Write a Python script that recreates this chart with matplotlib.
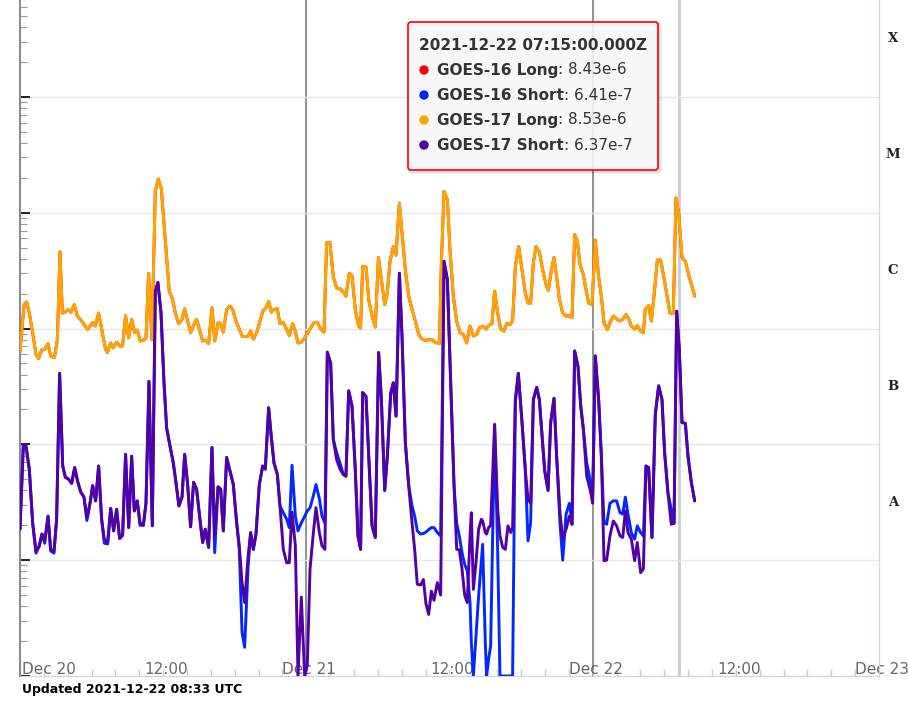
import matplotlib

matplotlib.use("Agg")

import matplotlib.dates as mdates
import matplotlib.pyplot as plt
import matplotlib.transforms as mtransforms
import numpy as np
import pandas as pd
from matplotlib.patches import Circle, FancyBboxPatch
from matplotlib.text import Annotation

START = pd.Timestamp("2021-12-20 00:00")

# hours after 2021-12-20 00:00 UTC, long channel (1-8 A), W/m^2
long_hours = [
    0.00, 0.34, 0.56, 0.78, 1.06, 1.34, 1.56, 1.84, 2.07, 2.35,
    2.57, 2.88, 3.13, 3.35, 3.55, 3.77, 4.05, 4.27, 4.55, 4.80,
    5.17, 5.45, 5.67, 6.09, 6.31, 6.59, 6.90, 7.18, 7.32, 7.60,
    7.82, 8.10, 8.38, 8.60, 8.85, 9.11, 9.36, 9.61, 9.83, 10.08,
    10.34, 10.56, 10.78, 11.06, 11.34, 11.59, 11.84, 12.09, 12.29, 12.51,
    12.79, 13.02, 13.30, 13.58, 13.80, 14.05, 14.30, 14.58, 14.80, 15.08,
    15.31, 15.59, 15.81, 16.09, 16.32, 16.60, 16.82, 17.04, 17.32, 17.60,
    17.83, 18.10, 18.38, 18.61, 18.89, 19.11, 19.33, 19.56, 19.84, 20.12,
    20.34, 20.62, 20.84, 21.07, 21.29, 21.57, 21.79, 22.07, 22.35, 22.57,
    22.85, 23.08, 23.30, 23.58, 23.86, 24.08, 24.36, 24.64, 24.92, 25.20,
    25.48, 25.70, 25.98, 26.26, 26.54, 26.82, 27.10, 27.32, 27.60, 27.83,
    28.10, 28.38, 28.55,
    28.72, 29.00, 29.23, 29.51, 29.78, 30.04, 30.29, 30.57, 30.79, 31.01,
    31.29, 31.52, 31.80, 32.02, 32.30, 32.58, 32.86, 33.14, 33.42, 33.70,
    33.97, 34.25, 34.53, 34.81, 35.15, 35.32, 35.54, 35.82, 36.04, 36.32,
    36.60, 36.88, 37.16, 37.44, 37.72, 38.00, 38.28, 38.50, 38.79, 39.06,
    39.28, 39.56, 39.78, 40.06, 40.29, 40.57, 40.79, 41.07, 41.29, 41.52,
    41.80, 42.08, 42.35, 42.58, 42.80,
    43.03, 43.25, 43.53, 43.81, 44.09, 44.29, 44.54, 44.76, 44.98, 45.21,
    45.49, 45.77, 45.99, 46.27, 46.49, 46.72, 46.94, 47.22, 47.44, 47.67,
    47.95, 48.22, 48.50, 48.73, 48.95, 49.23, 49.45, 49.73, 50.01, 50.24,
    50.52, 50.79, 51.02, 51.24, 51.52, 51.74, 52.02, 52.25, 52.41, 52.69,
    52.92, 53.14, 53.42, 53.70, 53.98, 54.26, 54.48, 54.76, 54.98, 55.21,
    55.49, 55.77, 56.05, 56.33, 56.55,
]
g17_long = [
    6.3e-7, 1.6e-6, 1.7e-6, 1.36e-6, 9.2e-7, 6.0e-7, 5.5e-7, 6.6e-7, 6.6e-7, 7.4e-7,
    5.8e-7, 5.6e-7, 8.0e-7, 4.6e-6, 1.36e-6, 1.38e-6, 1.46e-6, 1.38e-6, 1.61e-6, 1.28e-6,
    1.16e-6, 1.05e-6, 9.8e-7, 1.13e-6, 1.05e-6, 1.36e-6, 9.2e-7, 6.6e-7, 6.2e-7, 7.5e-7,
    6.8e-7, 7.6e-7, 7.0e-7, 7.1e-7, 1.29e-6, 8.3e-7, 1.2e-6, 9.2e-7, 9.7e-7, 7.8e-7,
    7.9e-7, 8.3e-7, 2.98e-6, 8.0e-7, 1.53e-5, 1.95e-5, 1.63e-5, 7.6e-6, 4.2e-6, 2.1e-6,
    1.78e-6, 1.36e-6, 1.1e-6, 1.2e-6, 1.48e-6, 1.16e-6, 9.2e-7, 1.08e-6, 1.2e-6, 9.5e-7,
    7.8e-7, 7.9e-7, 7.4e-7, 1.51e-6, 7.8e-7, 1.12e-6, 1.1e-6, 9.3e-7, 1.46e-6, 1.56e-6,
    1.46e-6, 1.16e-6, 9.9e-7, 8.6e-7, 8.5e-7, 8.6e-7, 9.5e-7, 8.1e-7, 9.2e-7, 1.16e-6,
    1.41e-6, 1.51e-6, 1.71e-6, 1.38e-6, 1.46e-6, 1.48e-6, 1.1e-6, 1.13e-6, 9.8e-7, 8.7e-7,
    1.1e-6, 9.5e-7, 7.5e-7, 7.6e-7, 8.3e-7, 9.0e-7, 1.01e-6, 1.12e-6, 1.13e-6, 9.9e-7,
    9.3e-7, 5.5e-6, 5.5e-6, 2.8e-6, 2.24e-6, 2.2e-6, 2.06e-6, 1.9e-6, 3.0e-6, 2.86e-6,
    1.46e-6, 1.05e-6, 1.01e-6,
    3.45e-6, 3.4e-6, 1.78e-6, 1.28e-6, 1.03e-6, 4.1e-6, 2.65e-6, 1.61e-6, 2.03e-6, 3.8e-6,
    5.1e-6, 4.3e-6, 1.21e-5, 6.7e-6, 3.2e-6, 1.9e-6, 1.46e-6, 1.16e-6, 8.9e-7, 8.1e-7,
    7.9e-7, 8.0e-7, 8.0e-7, 7.6e-7, 7.4e-7, 3.7e-6, 1.53e-5, 1.29e-5, 4.8e-6, 1.9e-6,
    1.16e-6, 9.2e-7, 8.9e-7, 7.5e-7, 1.05e-6, 8.6e-7, 8.9e-7, 1.01e-6, 1.05e-6, 9.9e-7,
    1.06e-6, 1.1e-6, 2.1e-6, 1.32e-6, 9.9e-7, 9.5e-7, 1.1e-6, 1.08e-6, 1.16e-6, 3.45e-6,
    5.1e-6, 3.2e-6, 2.03e-6, 1.66e-6, 1.66e-6,
    3.7e-6, 5.1e-6, 4.6e-6, 3.2e-6, 2.4e-6, 2.14e-6, 3.2e-6, 4.1e-6, 2.8e-6, 1.78e-6,
    1.36e-6, 1.28e-6, 1.29e-6, 1.24e-6, 6.5e-6, 5.65e-6, 3.56e-6, 2.9e-6, 2.17e-6, 1.66e-6,
    1.61e-6, 5.8e-6, 2.8e-6, 1.9e-6, 1.12e-6, 9.8e-7, 1.12e-6, 1.28e-6, 1.21e-6, 1.16e-6,
    1.2e-6, 1.32e-6, 1.21e-6, 1.05e-6, 9.9e-7, 1.06e-6, 9.5e-7, 9.2e-7, 1.46e-6, 1.58e-6,
    1.16e-6, 1.9e-6, 3.9e-6, 3.9e-6, 2.73e-6, 1.84e-6, 1.36e-6, 1.35e-6, 1.34e-5, 9.9e-6,
    4.1e-6, 3.8e-6, 2.9e-6, 2.3e-6, 1.9e-6,
]
# GOES-16 long reads the same as GOES-17 long at this scale (hidden underneath)
g16_long = list(g17_long)

# short channel (0.5-4 A)
short_hours = [
    0.00, 0.28, 0.50, 0.78, 1.06, 1.34, 1.62, 1.84, 2.07, 2.35,
    2.57, 2.85, 3.07, 3.32, 3.58, 3.80, 4.08, 4.33, 4.58, 4.83,
    5.08, 5.36, 5.61, 5.87, 6.09, 6.34, 6.59, 6.84, 7.07, 7.35,
    7.60, 7.85, 8.10, 8.35, 8.60, 8.85, 9.11, 9.36, 9.58, 9.83,
    10.06, 10.34, 10.56, 10.81, 11.09, 11.34, 11.56, 11.82, 12.07, 12.29,
    12.57, 12.85, 13.07, 13.32, 13.58, 13.80, 14.05, 14.30, 14.55, 14.80,
    15.08,
    15.31, 15.53, 15.81, 16.09, 16.32, 16.60, 16.82, 17.04, 17.32, 17.60,
    17.88, 18.16, 18.38, 18.61, 18.83, 19.11, 19.33, 19.56, 19.78, 20.06,
    20.34, 20.56, 20.84, 21.07, 21.29, 21.57, 21.79, 22.07, 22.35, 22.57,
    22.80, 23.08, 23.30, 23.58, 23.86, 24.08, 24.31, 24.59, 24.81, 25.09,
    25.31, 25.56, 25.76, 26.04, 26.26, 26.54, 26.82, 27.10, 27.32, 27.55,
    27.83, 28.10, 28.33, 28.55,
    28.72, 29.00, 29.28, 29.51, 29.78, 30.06, 30.29, 30.57, 30.79, 31.07,
    31.29, 31.52, 31.80, 32.02, 32.30, 32.58, 32.86, 33.08, 33.30, 33.58,
    33.81, 34.03, 34.25, 34.48, 34.70, 34.98, 35.26, 35.54, 35.82, 36.10,
    36.38, 36.60, 36.82, 37.05, 37.27, 37.49, 37.72, 37.83, 38.00, 38.22,
    38.44, 38.67, 38.78, 39.00, 39.11, 39.28, 39.45, 39.78, 40.04, 40.23,
    40.46, 40.68, 40.90, 41.13, 41.29, 41.52, 41.77, 42.08, 42.35, 42.58,
    42.80,
    43.03, 43.31, 43.53, 43.76, 43.98, 44.26, 44.48, 44.76, 44.98, 45.26,
    45.49, 45.77, 46.05, 46.27, 46.49, 46.77, 47.00, 47.22, 47.50, 47.78,
    48.00, 48.22, 48.50, 48.73, 48.95, 49.17, 49.45, 49.73, 50.01, 50.29,
    50.52, 50.74, 50.96, 51.24, 51.52, 51.74, 52.02, 52.25, 52.47, 52.69,
    52.97, 53.25, 53.53, 53.81, 54.03, 54.31, 54.59, 54.82, 55.04, 55.26,
    55.49, 55.77, 55.99, 56.27, 56.55,
]
g17_short = [
    1.85e-8, 1.0e-7, 9.7e-8, 6.1e-8, 2.1e-8, 1.2e-8, 1.33e-8, 1.68e-8, 1.47e-8, 2.4e-8,
    1.24e-8, 1.2e-8, 2.26e-8, 4.1e-7, 6.5e-8, 5.2e-8, 5.0e-8, 4.6e-8, 6.3e-8, 4.8e-8,
    3.9e-8, 3.5e-8, 2.33e-8, 3.1e-8, 4.4e-8, 3.25e-8, 6.5e-8, 2.26e-8, 1.5e-8, 1.44e-8,
    2.8e-8, 1.79e-8, 2.75e-8, 1.54e-8, 1.64e-8, 8.2e-8, 1.91e-8, 7.9e-8, 2.66e-8, 3.25e-8,
    2.1e-8, 2.0e-8, 3.1e-8, 3.5e-7, 1.98e-8, 2.1e-6, 2.5e-6, 1.36e-6, 3.4e-7, 1.39e-7,
    9.7e-8, 6.9e-8, 4.7e-8, 2.94e-8, 3.5e-8, 8.2e-8, 4.5e-8, 1.94e-8, 4.7e-8, 4.1e-8,
    2.26e-8,
    1.42e-8, 1.85e-8, 1.29e-8, 9.4e-8, 1.62e-8, 4.3e-8, 4.1e-8, 1.79e-8, 7.7e-8, 5.9e-8,
    4.5e-8, 2.1e-8, 1.33e-8, 6.4e-9, 4.3e-9, 1.05e-8, 1.73e-8, 1.24e-8, 1.68e-8, 4.5e-8,
    6.5e-8, 6.1e-8, 2.07e-7, 1.14e-7, 6.9e-8, 5.5e-8, 2.94e-8, 1.24e-8, 9.5e-9, 9.5e-9,
    2.6e-8, 1.33e-8, 1.0e-9, 4.8e-9, 1.0e-9, 1.23e-9, 8.4e-9, 1.73e-8, 2.84e-8, 1.73e-8,
    1.33e-8, 1.24e-8, 6.25e-7, 5.0e-7, 1.1e-7, 7.4e-8, 6.1e-8, 5.5e-8, 5.3e-8, 2.9e-7,
    2.14e-7, 6.1e-8, 1.62e-8, 1.24e-8,
    2.8e-7, 2.6e-7, 6.1e-8, 1.98e-8, 1.57e-8, 6.2e-7, 2.44e-7, 4.0e-8, 7.9e-8, 2.75e-7,
    3.4e-7, 1.75e-7, 3.0e-6, 8.6e-7, 1.03e-7, 4.4e-8, 2.1e-8, 1.24e-8, 6.2e-9, 6.1e-9,
    6.8e-9, 4.2e-9, 3.4e-9, 5.4e-9, 4.5e-9, 6.4e-9, 5.0e-9, 3.8e-6, 2.65e-6, 3.4e-7,
    4.4e-8, 1.24e-8, 1.23e-8, 8.4e-9, 5.0e-9, 4.3e-9, 1.62e-8, 2.57e-8, 5.6e-9, 9.5e-9,
    1.85e-8, 2.26e-8, 2.18e-8, 1.73e-8, 1.68e-8, 1.91e-8, 2.0e-8, 1.49e-7, 2.75e-8, 1.62e-8,
    1.29e-8, 1.24e-8, 1.98e-8, 1.73e-8, 1.91e-8, 2.5e-7, 4.1e-7, 1.54e-7, 6.1e-8, 3.36e-8,
    3.1e-8,
    2.44e-7, 3.1e-7, 2.44e-7, 1.18e-7, 5.9e-8, 4.0e-8, 1.54e-7, 2.5e-7, 7.9e-8, 2.57e-8,
    1.52e-8, 1.85e-8, 2.4e-8, 2.04e-8, 6.4e-7, 4.7e-7, 2.14e-7, 1.35e-7, 5.3e-8, 4.1e-8,
    3.1e-8, 5.8e-7, 2.44e-7, 7.9e-8, 9.9e-9, 1.0e-8, 1.62e-8, 2.18e-8, 1.98e-8, 1.62e-8,
    1.57e-8, 2.66e-8, 1.73e-8, 1.52e-8, 9.9e-9, 1.42e-8, 7.8e-9, 8.4e-9, 6.5e-8, 6.3e-8,
    1.57e-8, 1.81e-7, 3.2e-7, 2.44e-7, 8.5e-8, 3.8e-8, 2.04e-8, 2.08e-8, 1.41e-6, 6.6e-7,
    1.54e-7, 1.52e-7, 7.9e-8, 4.7e-8, 3.25e-8,
]
g16_short = [
    1.85e-8, 1.0e-7, 9.7e-8, 6.1e-8, 2.1e-8, 1.15e-8, 1.33e-8, 1.68e-8, 1.4e-8, 2.4e-8,
    1.2e-8, 1.15e-8, 2.26e-8, 4.1e-7, 6.5e-8, 5.2e-8, 5.0e-8, 4.6e-8, 6.3e-8, 4.8e-8,
    3.9e-8, 3.5e-8, 2.2e-8, 3.1e-8, 4.4e-8, 3.25e-8, 6.5e-8, 2.26e-8, 1.4e-8, 1.38e-8,
    2.8e-8, 1.79e-8, 2.75e-8, 1.54e-8, 1.64e-8, 8.2e-8, 1.91e-8, 7.9e-8, 2.66e-8, 3.25e-8,
    2.0e-8, 2.0e-8, 3.1e-8, 3.5e-7, 1.98e-8, 2.1e-6, 2.5e-6, 1.36e-6, 3.4e-7, 1.39e-7,
    9.7e-8, 6.9e-8, 4.7e-8, 2.94e-8, 3.5e-8, 8.2e-8, 4.5e-8, 1.94e-8, 4.7e-8, 4.1e-8,
    2.26e-8,
    1.42e-8, 1.85e-8, 1.29e-8, 9.4e-8, 1.16e-8, 4.3e-8, 4.1e-8, 1.79e-8, 7.7e-8, 5.9e-8,
    4.5e-8, 2.1e-8, 1.24e-8, 2.4e-9, 1.77e-9, 8.4e-9, 1.73e-8, 1.24e-8, 1.68e-8, 4.5e-8,
    6.5e-8, 6.1e-8, 2.07e-7, 1.14e-7, 6.9e-8, 5.5e-8, 2.94e-8, 2.57e-8, 2.26e-8, 1.91e-8,
    6.6e-8, 2.4e-8, 1.79e-8, 2.1e-8, 2.4e-8, 2.66e-8, 2.84e-8, 3.6e-8, 4.5e-8, 3.4e-8,
    2.4e-8, 2.1e-8, 6.25e-7, 5.0e-7, 1.1e-7, 8.5e-8, 6.9e-8, 5.5e-8, 5.3e-8, 2.9e-7,
    2.14e-7, 6.1e-8, 1.62e-8, 1.24e-8,
    2.8e-7, 2.6e-7, 6.1e-8, 1.98e-8, 1.57e-8, 6.2e-7, 2.44e-7, 4.0e-8, 7.9e-8, 2.75e-7,
    3.4e-7, 1.75e-7, 3.0e-6, 8.6e-7, 1.03e-7, 4.4e-8, 2.94e-8, 2.4e-8, 1.79e-8, 1.68e-8,
    1.7e-8, 1.75e-8, 1.83e-8, 1.91e-8, 1.91e-8, 1.73e-8, 1.62e-8, 3.8e-6, 2.65e-6, 3.4e-7,
    4.4e-8, 2.1e-8, 1.62e-8, 1.16e-8, 9.2e-9, 8.1e-9, 4.3e-9, 1.95e-9, 1.0e-9, 2.2e-9,
    4.9e-9, 1.0e-8, 1.37e-8, 1.95e-9, 1.0e-9, 1.4e-9, 1.83e-9, 1.44e-7, 1.16e-8, 1.0e-9,
    1.0e-9, 1.0e-9, 1.0e-9, 1.0e-9, 1.0e-9, 2.29e-7, 4.1e-7, 1.54e-7, 6.1e-8, 1.47e-8,
    2.1e-8,
    2.44e-7, 3.1e-7, 2.44e-7, 1.18e-7, 5.9e-8, 4.0e-8, 1.54e-7, 2.5e-7, 7.9e-8, 2.1e-8,
    1.0e-8, 2.5e-8, 3.1e-8, 2.04e-8, 6.4e-7, 4.7e-7, 2.14e-7, 1.35e-7, 6.9e-8, 5.0e-8,
    3.6e-8, 5.8e-7, 2.44e-7, 7.9e-8, 2.1e-8, 2.04e-8, 3.1e-8, 3.25e-8, 3.25e-8, 2.57e-8,
    2.5e-8, 3.5e-8, 2.5e-8, 1.73e-8, 1.52e-8, 1.98e-8, 1.73e-8, 1.62e-8, 6.5e-8, 6.3e-8,
    1.57e-8, 1.81e-7, 3.2e-7, 2.44e-7, 8.5e-8, 3.8e-8, 2.75e-8, 2.08e-8, 1.41e-6, 6.6e-7,
    1.54e-7, 1.52e-7, 7.9e-8, 4.7e-8, 3.25e-8,
]

assert len(long_hours) == len(g17_long)
assert len(short_hours) == len(g17_short) == len(g16_short)

series_names = ["GOES-16 Long", "GOES-16 Short", "GOES-17 Long", "GOES-17 Short"]
series_colors = ["#ff0000", "#0028ff", "#ffa500", "#5300a6"]

flare_classes = ["A", "B", "C", "M", "X"]
class_lower = [1e-8, 1e-7, 1e-6, 1e-5, 1e-4]

axis_labels = ["Dec 20", "12:00", "Dec 21", "12:00", "Dec 22", "12:00", "Dec 23"]
axis_label_hours = [0, 12, 24, 36, 48, 60, 72]
day_lines = [24, 48]

tip_hour = 55.25
tip_time = "2021-12-22 07:15:00.000Z"
tip_values = ["8.43e-6", "6.41e-7", "8.53e-6", "6.37e-7"]
updated = "Updated 2021-12-22 08:33 UTC"


def to_num(hours):
    return mdates.date2num(START.to_pydatetime()) + np.asarray(hours, dtype=float) / 24.0


W, H = 908, 702
fig = plt.figure(figsize=(W / 100, H / 100), dpi=100)
ax = fig.add_axes([20 / W, 26 / H, 859 / W, 676 / H])
ax.xaxis_date()
ax.set_yscale("log")
ax.set_ylim(1e-9, 10 ** -3.164)
ax.set_xlim(to_num(0), to_num(72))

ax.grid(axis="y", which="major", color="#e6e6e6", lw=1, zorder=0)
ax.yaxis.set_minor_locator(matplotlib.ticker.LogLocator(base=10, subs=np.arange(2, 10)))
ax.tick_params(axis="y", which="major", direction="in", length=7, width=1.2,
               color="black", labelleft=False)
ax.tick_params(axis="y", which="minor", direction="in", length=5, width=0.8,
               color="#999999", labelleft=False)
ax.xaxis.set_major_locator(mdates.HourLocator(interval=2))
ax.xaxis.set_minor_locator(matplotlib.ticker.NullLocator())
ax.tick_params(axis="x", which="major", direction="in", length=5, width=1,
               color="#c4cbd8", labelbottom=False)

ax.spines["top"].set_visible(False)
ax.spines["left"].set_color("#8c8c8c")
ax.spines["left"].set_linewidth(1.5)
ax.spines["bottom"].set_color("#ccd6eb")
ax.spines["right"].set_color("#ccd6eb")

for h in day_lines:
    ax.axvline(to_num(h), color="#8a8a8a", lw=1.3, zorder=1)
ax.axvline(to_num(tip_hour), color="#cccccc", lw=2, zorder=1)

xl = to_num(long_hours)
xs = to_num(short_hours)
line_kw = dict(lw=2.1, solid_joinstyle="round", solid_capstyle="round")
ax.plot(xl, g16_long, color=series_colors[0], zorder=3, **line_kw)
ax.plot(xs, g16_short, color=series_colors[1], zorder=3, **line_kw)
ax.plot(xl, g17_long, color=series_colors[2], zorder=4, **line_kw)
ax.plot(xs, g17_short, color=series_colors[3], zorder=4, **line_kw)

# class letters on the right
blend = mtransforms.blended_transform_factory(ax.transAxes, ax.transData)
for letter, low in zip(flare_classes, class_lower):
    ax.text(1.0163, low * 10 ** 0.5, letter, transform=blend, ha="center", va="center",
            fontfamily="DejaVu Serif", fontweight="bold", fontsize=9.5, color="#222222",
            clip_on=False)

# time labels sit inside the plot, just above the bottom axis
xblend = mtransforms.blended_transform_factory(ax.transData, ax.transAxes)
for i, (label, h) in enumerate(zip(axis_labels, axis_label_hours)):
    if i == 0:
        trans = mtransforms.offset_copy(xblend, fig=fig, x=2, y=2, units="dots")
        ha = "left"
    else:
        trans = mtransforms.offset_copy(xblend, fig=fig, x=3, y=2, units="dots")
        ha = "center"
    ax.text(to_num(h), 0, label, transform=trans, ha=ha, va="baseline",
            fontsize=11, color="#666666", zorder=2, clip_on=False)

# tooltip
px = mtransforms.IdentityTransform()
shadow = FancyBboxPatch((409.5, H - 171.5), 250, 148, boxstyle="round,pad=0,rounding_size=3",
                        transform=px, fc="none", ec=(0, 0, 0, 0.12), lw=3, zorder=5)
box = FancyBboxPatch((408, H - 170), 250, 148, boxstyle="round,pad=0,rounding_size=3",
                     transform=px, fc=(0.97, 0.97, 0.97, 0.88), ec="#ff0000", lw=1.2, zorder=6)
fig.add_artist(shadow)
fig.add_artist(box)
fig.text(419, H - 45, tip_time, transform=px, ha="left", va="center", fontsize=11,
         fontweight="bold", color="#333333", zorder=7)
for k, (name, value, color) in enumerate(zip(series_names, tip_values, series_colors)):
    y = H - 70 - 25 * k
    fig.add_artist(Circle((424, y), 4, transform=px, color=color, zorder=7))
    name_txt = fig.text(437, y, name, transform=px, ha="left", va="center", fontsize=11,
                        fontweight="bold", color="#333333", zorder=7)
    fig.add_artist(Annotation(": " + value, xy=(1, 0), xycoords=name_txt, va="bottom",
                              ha="left", fontsize=11, color="#333333", zorder=7))

fig.text(22, 12, updated, transform=px, ha="left", va="center", fontsize=9,
         fontweight="bold", color="black")

fig.savefig("out.png", dpi=100)
